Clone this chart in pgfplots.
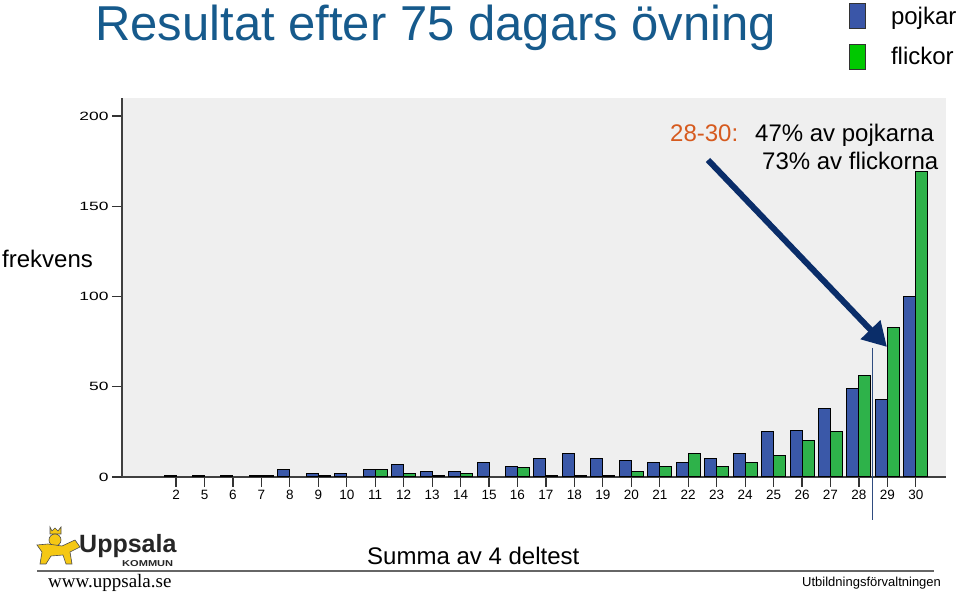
\documentclass[border=0pt]{standalone}
\usepackage{fontspec}
\setmainfont{Liberation Sans}
\newfontfamily\seriffont{Liberation Serif}
\newfontfamily\tickfont[FakeStretch=1.45]{Liberation Sans}
\usepackage{graphicx}
\usepackage{pgfplots}
\pgfplotsset{compat=1.18}
\usetikzlibrary{arrows.meta}
\definecolor{barblue}{RGB}{58,88,168}
\definecolor{bargreen}{RGB}{46,178,74}
\definecolor{legblue}{RGB}{58,86,168}
\definecolor{leggreen}{RGB}{0,200,0}
\definecolor{titleblue}{RGB}{22,90,140}
\definecolor{arrowblue}{RGB}{10,45,105}
\definecolor{orangetxt}{RGB}{214,90,30}
\definecolor{bggray}{RGB}{239,239,239}
\definecolor{lionyellow}{RGB}{245,200,20}
\newcommand\fs[1]{\fontsize{#1}{#1}\selectfont}
\begin{document}
\begin{tikzpicture}
\path[use as bounding box] (0,0) rectangle (959pt,594pt);
\begin{axis}[
  at={(122pt,117pt)}, anchor=south west,
  scale only axis, width=824pt, height=379pt,
  xmin=-1.9, xmax=27.06, ymin=0, ymax=210,
  axis lines=left,
  axis line style={-, line width=1.2pt, black!75},
  axis background/.style={fill=bggray},
  xtick={0,...,26},
  xticklabels={2,5,6,7,8,9,10,11,12,13,14,15,16,17,18,19,20,21,22,23,24,25,26,27,28,29,30},
  ytick={0,50,100,150,200},
  tick align=outside, major tick length=10pt,
  tick style={line width=1.2pt, black!80},
  xticklabel style={font=\fs{13.5}},
  yticklabel style={font=\tickfont\fs{12}},
  /pgf/number format/assume math mode=true,
  clip=false,
  legend style={at={(0.8823,1.2507)}, anchor=north west, draw=none, fill=none,
    font=\fs{24}, inner sep=0pt, row sep=15pt, nodes={inner sep=0pt},
    /tikz/every odd column/.append style={column sep=25pt}},
  legend cell align=left,
]
\addlegendimage{legend image code/.code={\draw[fill=legblue, draw=black!80, line width=0.8pt] (0pt,-12.5pt) rectangle (16pt,12.5pt);}}
\addlegendimage{legend image code/.code={\draw[fill=leggreen, draw=black!80, line width=0.8pt] (0pt,-12.5pt) rectangle (16pt,12.5pt);}}
\addplot[ybar, bar width=12pt, bar shift=-6pt, fill=barblue, draw=black, line width=1pt, forget plot] coordinates {
(0,1)(1,1)(2,1)(3,1)(4,4)(5,2)(6,2)(7,4)(8,7)(9,3)(10,3)(11,8)(12,6)(13,10)(14,13)(15,10)(16,9)(17,8)(18,8)(19,10)(20,13)(21,25)(22,26)(23,38)(24,49)(25,43)(26,100)};
\addplot[ybar, bar width=12pt, bar shift=6pt, fill=bargreen, draw=black, line width=1pt, forget plot] coordinates {
(3,1)(5,1)(7,4)(8,2)(9,1)(10,2)(12,5)(13,1)(14,1)(15,1)(16,3)(17,6)(18,13)(19,6)(20,8)(21,12)(22,20)(23,25)(24,56)(25,83)(26,169)};
\legend{pojkar, flickor}
\end{axis}
\begin{scope}[shift={(0pt,594pt)}, x=1pt, y=-1pt]
  % title
  \node[anchor=base west, inner sep=0pt, text=titleblue, font=\fs{49}] at (95,41) {Resultat efter 75 dagars övning};
  \node[anchor=base west, inner sep=0pt, font=\fs{24}] at (2,268) {frekvens};
  % annotation
  \node[anchor=base west, inner sep=0pt, text=orangetxt, font=\fs{24}] at (670,142) {28-30:};
  \node[anchor=base west, inner sep=0pt, font=\fs{24}] at (755,142) {47\% av pojkarna};
  \node[anchor=base west, inner sep=0pt, font=\fs{24}] at (762,170) {73\% av flickorna};
  \draw[arrowblue, line width=6pt, -{Triangle[length=24pt,width=26pt]}] (708,160) -- (887,347);
  \draw[arrowblue!85, line width=1pt] (872,348) -- (872,520);
  % footer
  \node[anchor=base west, inner sep=0pt, font=\fs{24}] at (367,565) {Summa av 4 deltest};
  \draw[black!60, line width=1.2pt] (37,571) -- (934,571);
  \node[anchor=base west, inner sep=0pt, font=\seriffont\fs{19}] at (48,588) {www.uppsala.se};
  \node[anchor=base west, inner sep=0pt, font=\fs{13}] at (802,587) {Utbildningsförvaltningen};
  % logo
  \fill[lionyellow, draw=black!70, line width=0.6pt] (50,527) -- (52,531) -- (55,528) -- (58,531) -- (61,527) -- (61,534) -- (50,534) -- cycle;
  \fill[lionyellow, draw=black!70, line width=0.6pt] (55,540) circle (6);
  \fill[lionyellow, draw=black!70, line width=0.6pt] (37,545) -- (48,544) -- (62,546) -- (75,540) -- (80,547) -- (70,552) -- (72,564) -- (66,564) -- (63,555) -- (51,556) -- (46,564) -- (40,564) -- (42,552) -- cycle;
  \node[anchor=base west, inner sep=0pt, font=\bfseries\fs{25}, text=black!85] at (79,553) {Uppsala};
  \node[anchor=base west, inner sep=0pt, text=black!85] at (122,567) {\resizebox{51pt}{6pt}{\bfseries KOMMUN}};
\end{scope}
\end{tikzpicture}
\end{document}
